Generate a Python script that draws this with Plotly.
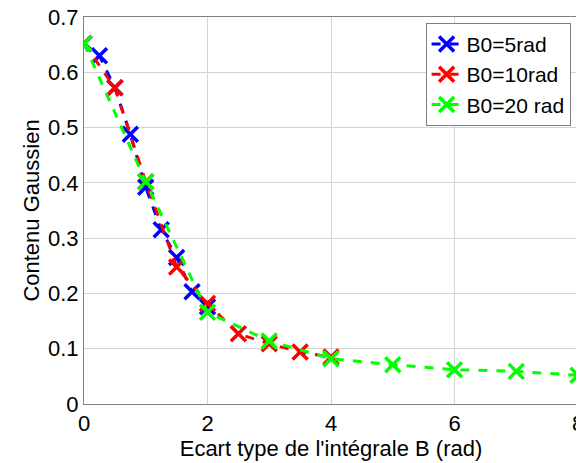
import plotly.graph_objects as go

# Ecart type (rad) and Gaussian content for each B0
x_b5 = [0, 0.25, 0.5, 0.75, 1.0, 1.25, 1.5, 1.75, 2.0]
y_b5 = [0.652, 0.630, 0.572, 0.488, 0.392, 0.315, 0.265, 0.203, 0.176]

x_b10 = [0, 0.5, 1.0, 1.5, 2.0, 2.5, 3.0, 3.5, 4.0]
y_b10 = [0.652, 0.572, 0.402, 0.248, 0.182, 0.127, 0.109, 0.094, 0.085]

x_b20 = [0, 1, 2, 3, 4, 5, 6, 7, 8]
y_b20 = [0.652, 0.402, 0.166, 0.114, 0.082, 0.071, 0.062, 0.059, 0.052]

series = [
    ("B0=5rad", x_b5, y_b5, "#0000ff"),
    ("B0=10rad", x_b10, y_b10, "#ff0000"),
    ("B0=20 rad", x_b20, y_b20, "#00ff00"),
]

fig = go.Figure()
for name, xs, ys, col in series:
    fig.add_trace(go.Scatter(
        x=xs, y=ys, name=name, mode="lines+markers",
        line=dict(color=col, width=3, dash="dash"),
        marker=dict(symbol="x-thin", size=15, color=col,
                    line=dict(color=col, width=3.5)),
    ))

axis_style = dict(
    showgrid=True, gridcolor="#d4d4d4", gridwidth=1,
    showline=True, linecolor="#808080", linewidth=1, mirror=True,
    ticks="", zeroline=False, automargin=False,
    ticklabeloverflow="allow",
    tickfont=dict(size=22, color="black"),
)

# page body adds an 8px offset, so the figure is a bit smaller than the window
fig.update_layout(
    width=576, height=455,
    margin=dict(l=76, r=6, t=9, b=59),
    paper_bgcolor="white", plot_bgcolor="white",
    font=dict(family="Liberation Sans, Arial, sans-serif", color="black"),
    xaxis=dict(range=[0, 8], dtick=2,
               title=dict(text="Ecart type de l'intégrale B (rad)",
                          font=dict(size=22), standoff=0),
               **axis_style),
    yaxis=dict(range=[0, 0.7], dtick=0.1,
               title=dict(text="Contenu Gaussien",
                          font=dict(size=22), standoff=2),
               **axis_style),
    legend=dict(x=0.985, y=0.985, xanchor="right", yanchor="top",
                bgcolor="white", bordercolor="#808080", borderwidth=1,
                font=dict(size=21), tracegroupgap=0, itemwidth=30),
    showlegend=True,
)

fig.write_html("out.html")
